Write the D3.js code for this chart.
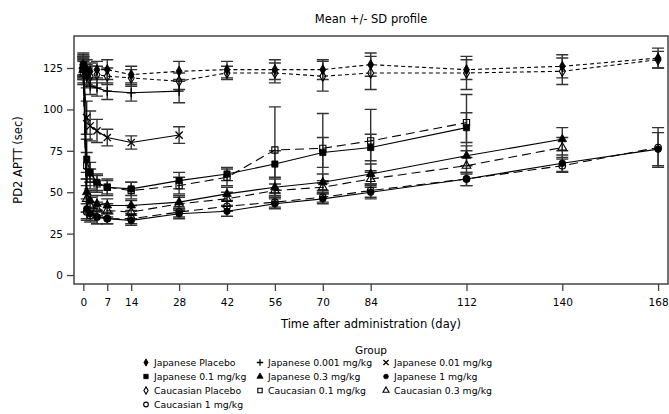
<!DOCTYPE html>
<html>
<head>
<meta charset="utf-8">
<script src="https://cdn.jsdelivr.net/npm/d3@7"></script>
<style>
  body { margin: 0; background: #fff; }
  text { font-family: "DejaVu Sans", sans-serif; fill: #000; }
</style>
</head>
<body>
<script>
// sampling days
var days = [0, 1, 2, 4, 7, 14, 28, 42, 56, 70, 84, 112, 140, 168];
var xTicks = [0, 7, 14, 28, 42, 56, 70, 84, 112, 140, 168];
var yTicks = [0, 25, 50, 75, 100, 125];

// group names (legend order)
var groupNames = ['Japanese Placebo', 'Japanese 0.001 mg/kg', 'Japanese 0.01 mg/kg',
                  'Japanese 0.1 mg/kg', 'Japanese 0.3 mg/kg', 'Japanese 1 mg/kg',
                  'Caucasian Placebo', 'Caucasian 0.1 mg/kg', 'Caucasian 0.3 mg/kg',
                  'Caucasian 1 mg/kg'];

// means (null = not measured)
var jpPlaceboMean = [127, 124, 123, 124, 124, 121, 123, 124, 124, 124, 127, 124, 126, 131];
var jp0001Mean    = [125, 119, 114, 113, 111, 110, 111, null, null, null, null, null, null, null];
var jp001Mean     = [125, 95, 90, 87, 83, 80, 84.5, null, null, null, null, null, null, null];
var jp01Mean      = [127, 70, 62, 56, 53, 52, 57, 61, 67, 74, 77, 89, null, null];
var jp03Mean      = [126, 50, 45, 43, 42, 42, 44, 49, 53, 56, 61, 72, 82, null];
var jp1Mean       = [126, 40, 37, 35, 34, 33, 37, 38.5, 43, 46, 50, 58, 67.5, 76];
var caPlaceboMean = [124, 121, 120, 121, 120, 119, 117, 122, 122, 120, 122, 122, 123, 130];
var ca01Mean      = [122, 66, 58, 55, 53, 51, 54, 59, 75.5, 76.5, 81, 92, null, null];
var ca03Mean      = [124, 46, 42, 40, 39, 38, 43, 46, 51, 53, 58, 66, 77, null];
var ca1Mean       = [124, 38, 36, 35, 34, 34, 38, 41.5, 44, 47, 51, 58, 66, 77];

// standard deviations
var jpPlaceboSd = [7, 6, 5, 5, 6, 5, 6, 5, 6, 6, 7, 6, 7, 6];
var jp0001Sd    = [6, 6, 5, 5, 5, 5, 7, null, null, null, null, null, null, null];
var jp001Sd     = [6, 10, 9, 7, 5, 4, 5, null, null, null, null, null, null, null];
var jp01Sd      = [6, 12, 6, 5, 4, 4, 5, 4, 8, 9, 8, 9, null, null];
var jp03Sd      = [6, 12, 6, 5, 4, 3, 4, 4, 5, 5, 6, 6, 7, null];
var jp1Sd       = [6, 6, 4, 4, 3, 3, 3, 3, 3, 3, 4, 4, 5, 10];
var caPlaceboSd = [8, 6, 6, 5, 5, 5, 5, 4, 6, 9, 10, 10, 8, 5];
var ca01Sd      = [7, 8, 6, 5, 5, 5, 5, 5, 26, 21, 19, 17, null, null];
var ca03Sd      = [6, 8, 5, 4, 4, 4, 4, 4, 4, 4, 5, 5, 6, null];
var ca1Sd       = [6, 5, 4, 4, 3, 3, 3, 3, 3, 3, 4, 4, 4, 12];

var meanLists = [jpPlaceboMean, jp0001Mean, jp001Mean, jp01Mean, jp03Mean, jp1Mean,
                 caPlaceboMean, ca01Mean, ca03Mean, ca1Mean];
var sdLists   = [jpPlaceboSd, jp0001Sd, jp001Sd, jp01Sd, jp03Sd, jp1Sd,
                 caPlaceboSd, ca01Sd, ca03Sd, ca1Sd];

// marker / line style per group
var markers = ['diamond', 'plus', 'x', 'square', 'triangle', 'circle',
               'diamond', 'square', 'triangle', 'circle'];
var filled  = [true, true, true, true, true, true, false, false, false, false];
var dashes  = ['4,3', null, null, null, null, null, '4,3', '9,5', '9,5', '9,5'];

var W = 669, H = 414;
var plot = {left: 74, right: 668, top: 36, bottom: 284};

var x = d3.scaleLinear().domain([-2.72, 170.9]).range([plot.left, plot.right]);
var y = d3.scaleLinear().domain([-5.4, 144.3]).range([plot.bottom, plot.top]);

var svg = d3.select('body').append('svg')
    .attr('width', W)
    .attr('height', H);

// build series
var series = groupNames.map(function(name, i) {
    var pts = [];
    days.forEach(function(d, j) {
        if (meanLists[i][j] != null) pts.push({day: d, mean: meanLists[i][j], sd: sdLists[i][j]});
    });
    return {name: name, pts: pts, marker: markers[i], filled: filled[i], dash: dashes[i]};
});

// marker drawing
function drawMarker(g, type, isFilled, s) {
    if (type === 'plus') {
        g.append('path').attr('d', 'M' + (-s) + ',0H' + s + 'M0,' + (-s) + 'V' + s)
            .attr('stroke', '#000').attr('stroke-width', 1.3).attr('fill', 'none');
        return;
    }
    if (type === 'x') {
        var k = s * 0.8;
        g.append('path').attr('d', 'M' + (-k) + ',' + (-k) + 'L' + k + ',' + k + 'M' + (-k) + ',' + k + 'L' + k + ',' + (-k))
            .attr('stroke', '#000').attr('stroke-width', 1.3).attr('fill', 'none');
        return;
    }
    var sizes = {diamond: s * s * 1.5, square: s * s * 1.9, triangle: s * s * 1.6, circle: s * s * 1.7};
    var types = {diamond: d3.symbolDiamond, square: d3.symbolSquare, triangle: d3.symbolTriangle, circle: d3.symbolCircle};
    var sym = d3.symbol().type(types[type]).size(sizes[type]);
    g.append('path').attr('d', sym())
        .attr('fill', isFilled ? '#000' : 'none')
        .attr('stroke', '#000')
        .attr('stroke-width', isFilled ? 0.8 : 1.1);
}

// frame
svg.append('rect')
    .attr('x', plot.left).attr('y', plot.top)
    .attr('width', plot.right - plot.left).attr('height', plot.bottom - plot.top)
    .attr('fill', 'none').attr('stroke', '#444').attr('stroke-width', 1.5);

var line = d3.line()
    .x(function(d) { return x(d.day); })
    .y(function(d) { return y(d.mean); });

var gData = svg.append('g');

// error bars
series.forEach(function(s) {
    var eb = gData.append('g');
    s.pts.forEach(function(p) {
        var cx = x(p.day), y0 = y(p.mean - p.sd), y1 = y(p.mean + p.sd);
        eb.append('path')
            .attr('d', 'M' + cx + ',' + y0 + 'V' + y1 +
                       'M' + (cx - 6) + ',' + y0 + 'H' + (cx + 6) +
                       'M' + (cx - 6) + ',' + y1 + 'H' + (cx + 6))
            .attr('stroke', '#333').attr('stroke-width', 1.4).attr('fill', 'none');
    });
});

// lines
series.forEach(function(s) {
    gData.append('path')
        .datum(s.pts)
        .attr('d', line)
        .attr('fill', 'none')
        .attr('stroke', '#000')
        .attr('stroke-width', 1.1)
        .attr('stroke-dasharray', s.dash);
});

// markers
series.forEach(function(s) {
    s.pts.forEach(function(p) {
        var g = gData.append('g').attr('transform', 'translate(' + x(p.day) + ',' + y(p.mean) + ')');
        drawMarker(g, s.marker, s.filled, 4.5);
    });
});

// axes
var xAxis = d3.axisBottom(x).tickValues(xTicks).tickSize(7).tickPadding(8);
var yAxis = d3.axisLeft(y).tickValues(yTicks).tickSize(7).tickPadding(4);

var gx = svg.append('g')
    .attr('transform', 'translate(0,' + plot.bottom + ')')
    .call(xAxis);
var gy = svg.append('g')
    .attr('transform', 'translate(' + plot.left + ',0)')
    .call(yAxis);
[gx, gy].forEach(function(g) {
    g.select('.domain').remove();
    g.selectAll('line').attr('stroke', '#444').attr('stroke-width', 1.3);
    g.selectAll('text').attr('font-size', 10.5).attr('font-family', '"DejaVu Sans", sans-serif').attr('fill', '#000');
});

// titles
var midX = (plot.left + plot.right) / 2;
svg.append('text')
    .attr('x', midX).attr('y', 23)
    .attr('text-anchor', 'middle')
    .attr('font-size', 11.5)
    .text('Mean +/- SD profile');

svg.append('text')
    .attr('text-anchor', 'middle')
    .attr('font-size', 11.5)
    .attr('transform', 'translate(22,' + ((plot.top + plot.bottom) / 2) + ')rotate(-90)')
    .text('PD2 APTT (sec)');

svg.append('text')
    .attr('x', midX).attr('y', 328)
    .attr('text-anchor', 'middle')
    .attr('font-size', 11.5)
    .text('Time after administration (day)');

// legend
svg.append('text')
    .attr('x', midX).attr('y', 354)
    .attr('text-anchor', 'middle')
    .attr('font-size', 10.5)
    .text('Group');

var colX = [142, 256, 382];
var rowY = [366, 380, 394, 408];
var legend = svg.append('g');
groupNames.forEach(function(name, k) {
    var col = k % 3, row = Math.floor(k / 3);
    var item = legend.append('g')
        .attr('transform', 'translate(' + colX[col] + ',' + rowY[row] + ')');
    var mg = item.append('g').attr('transform', 'translate(4,-3.5)');
    drawMarker(mg, markers[k], filled[k], 3.2);
    item.append('text')
        .attr('x', 12).attr('y', 0)
        .attr('font-size', 9.3)
        .text(name);
});
</script>
</body>
</html>
